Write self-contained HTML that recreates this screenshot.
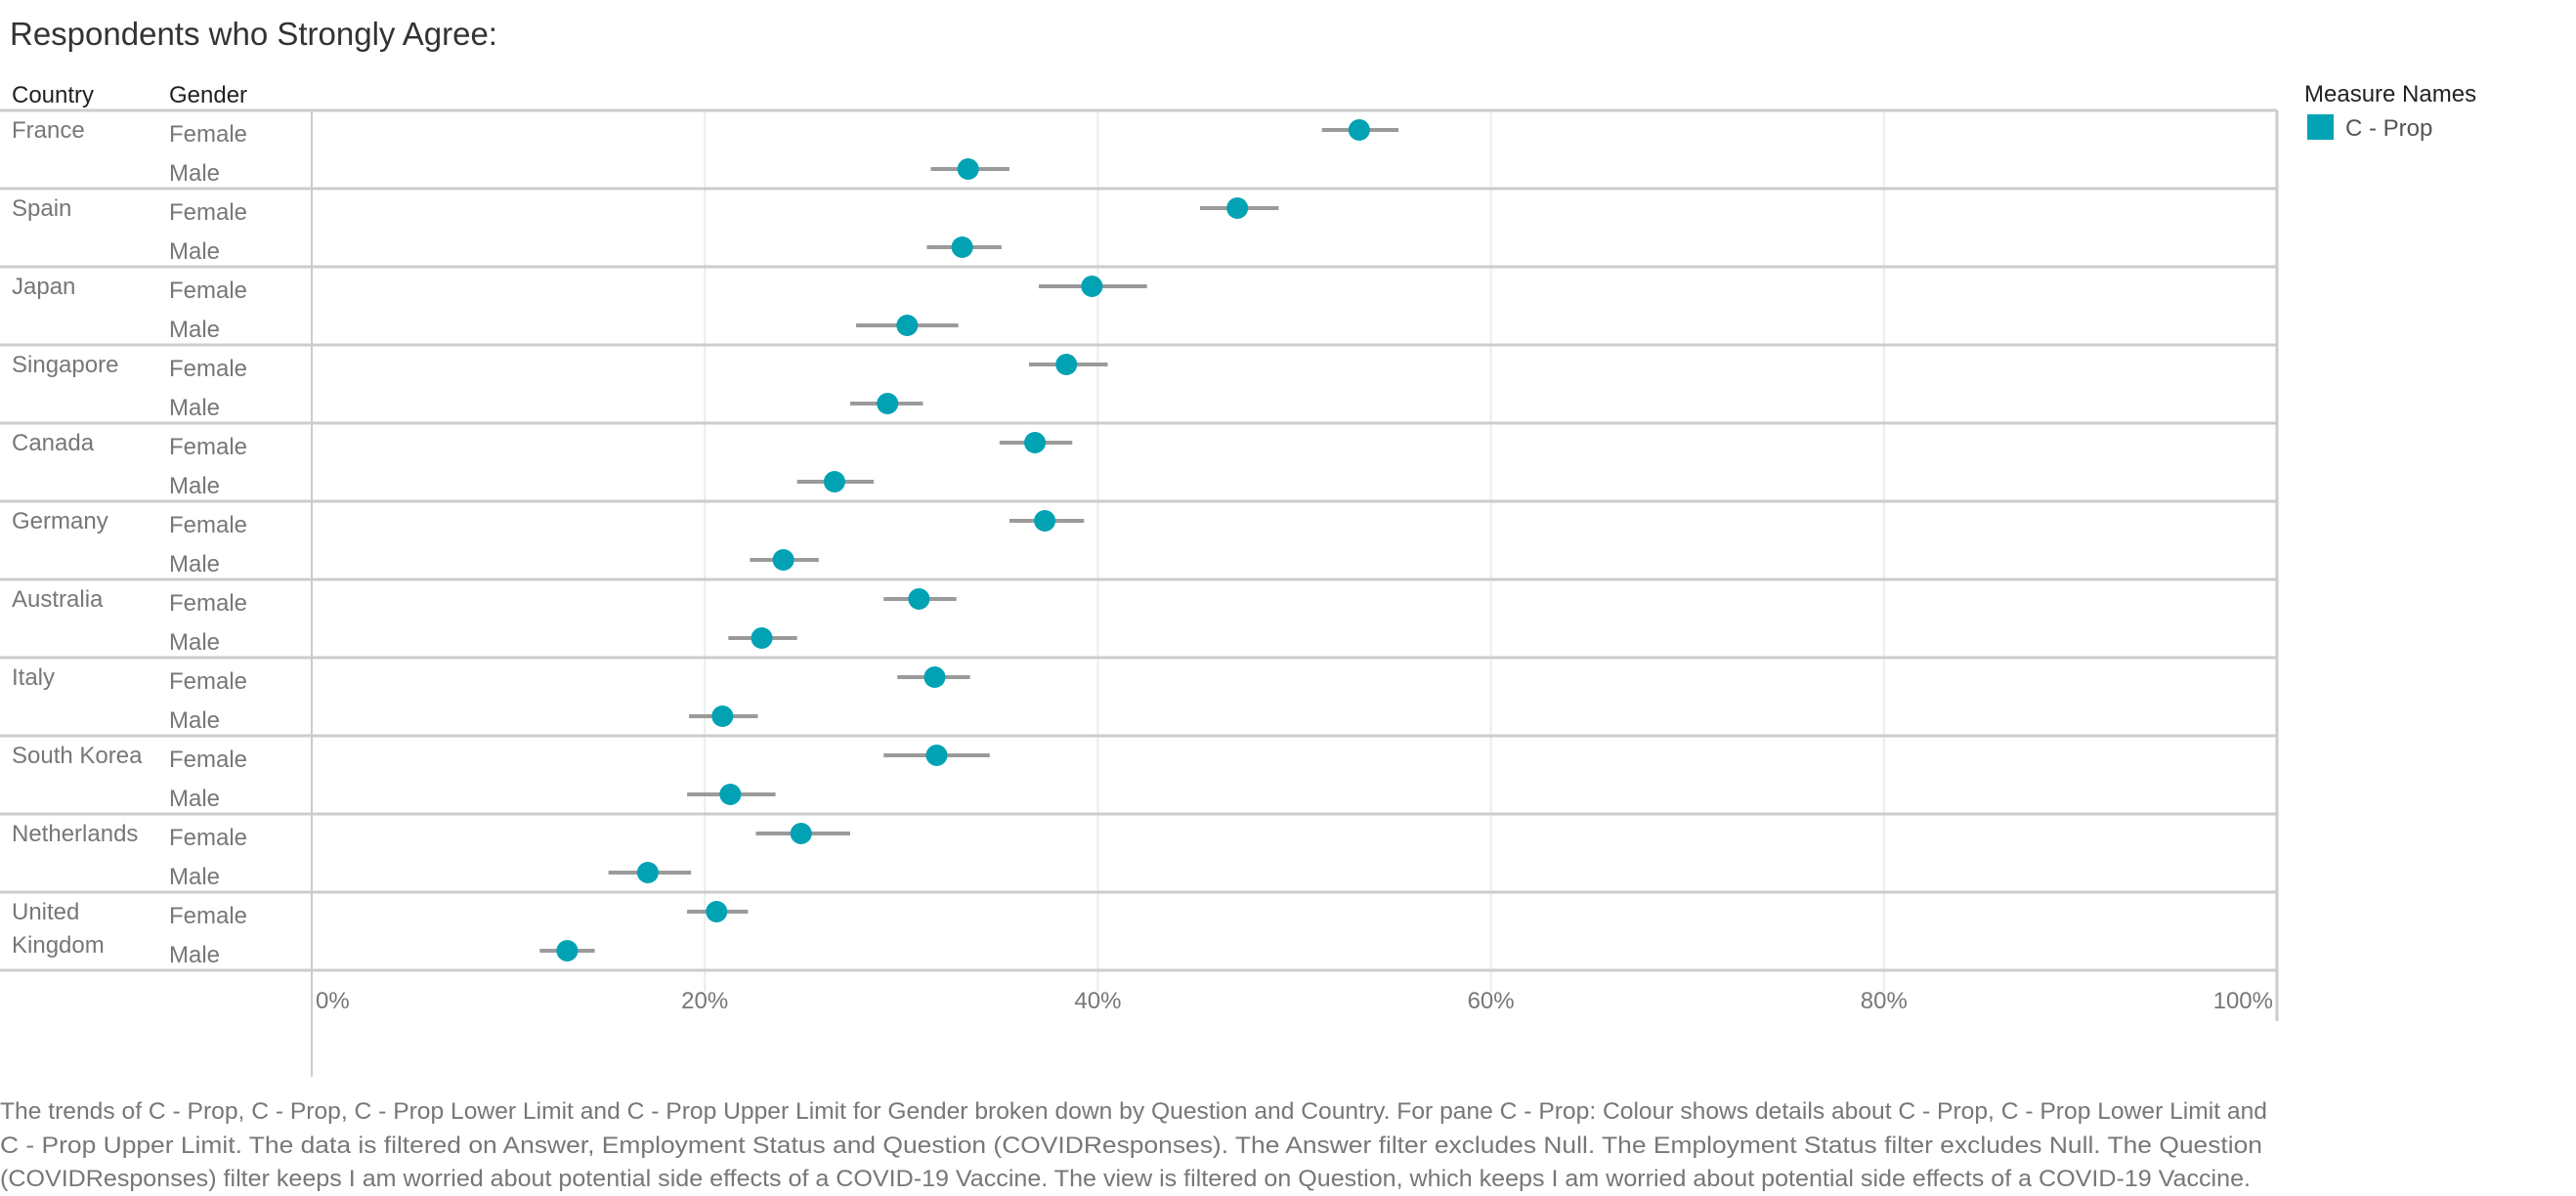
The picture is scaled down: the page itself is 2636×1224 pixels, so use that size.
<!DOCTYPE html>
<html><head><meta charset="utf-8"><style>
html,body{margin:0;padding:0;background:#fff;}
svg{display:block;font-family:"Liberation Sans Narrow","Liberation Sans",sans-serif;}
</style></head><body>
<svg id="chart" width="2636" height="1224" viewBox="0 0 2636 1224">
<text x="10" y="46" font-size="33" fill="#333">Respondents who Strongly Agree:</text>
<text x="12" y="105" font-size="24" fill="#222">Country</text>
<text x="173" y="105" font-size="24" fill="#222">Gender</text>
<text x="2358" y="104" font-size="24" fill="#222">Measure Names</text>
<rect x="2361" y="117" width="27" height="26" fill="#00a2b4"></rect>
<text x="2400" y="139" font-size="24" fill="#555">C - Prop</text>
<g id="grid"></g>
<g id="rows"></g>
<g id="marks"></g>
<g id="axis"></g>
<g font-size="24" fill="#777">
<text x="0" y="1145" textLength="2320" lengthAdjust="spacingAndGlyphs">The trends of C - Prop, C - Prop, C - Prop Lower Limit  and C - Prop Upper Limit for Gender broken down by Question and Country.  For pane C - Prop:  Colour shows details about C - Prop, C - Prop Lower Limit  and</text>
<text x="0" y="1180" textLength="2315" lengthAdjust="spacingAndGlyphs">C - Prop Upper Limit. The data is filtered on Answer, Employment Status and Question (COVIDResponses). The Answer filter excludes Null. The Employment Status filter excludes Null. The Question</text>
<text x="0" y="1214" textLength="2303" lengthAdjust="spacingAndGlyphs">(COVIDResponses) filter keeps I am worried about potential side effects of a COVID-19 Vaccine. The view is filtered on Question, which keeps I am worried about potential side effects of a COVID-19 Vaccine.</text>
</g>
</svg>
<script>
const countries = ["France","Spain","Japan","Singapore","Canada","Germany","Australia","Italy","South Korea","Netherlands","United Kingdom"];
const femaleProp = [53.3,47.1,39.7,38.4,36.8,37.3,30.9,31.7,31.8,24.9,20.6];
const femaleLower = [51.4,45.2,37.0,36.5,35.0,35.5,29.1,29.8,29.1,22.6,19.1];
const femaleUpper = [55.3,49.2,42.5,40.5,38.7,39.3,32.8,33.5,34.5,27.4,22.2];
const maleProp = [33.4,33.1,30.3,29.3,26.6,24.0,22.9,20.9,21.3,17.1,13.0];
const maleLower = [31.5,31.3,27.7,27.4,24.7,22.3,21.2,19.2,19.1,15.1,11.6];
const maleUpper = [35.5,35.1,32.9,31.1,28.6,25.8,24.7,22.7,23.6,19.3,14.4];
const ticks = [0,20,40,60,80,100];
const tickLabels = ["0%","20%","40%","60%","80%","100%"];

const NS="http://www.w3.org/2000/svg";
const X0=319, X1=2330, TOP=113, BAND=80;
const x = v => X0 + (v/100)*(X1-X0);
const bandTop = i => TOP + i*BAND;
const BOTTOM = bandTop(countries.length);
function mk(tag, attrs, parent){const e=document.createElementNS(NS,tag);for(const k in attrs)e.setAttribute(k,attrs[k]);parent.appendChild(e);return e;}
const grid=document.getElementById('grid'), rows=document.getElementById('rows'), marks=document.getElementById('marks'), axis=document.getElementById('axis');

ticks.forEach((t,i)=>{
  if(t>0 && t<100){
    const g=mk('line',{x1:x(t),x2:x(t),y1:TOP,y2:BOTTOM+22,stroke:'#ececec','stroke-width':2},grid);
    
    
  }
  const lb=mk('text',{x:(t===100? x(t)-4 : x(t)+ (t===0?4:0)),y:BOTTOM+39,'font-size':24,fill:'#777','text-anchor':t===0?'start':(t===100?'end':'middle')},axis);
  lb.textContent=tickLabels[i];
  
  
});
let l=mk('line',{x1:X0,x2:X0,y1:TOP,y2:1102,stroke:'#ccc','stroke-width':2},axis);


l=mk('line',{x1:X1,x2:X1,y1:TOP,y2:1045,stroke:'#ccc','stroke-width':3},axis);



for(let i=0;i<=countries.length;i++){
  const ln=mk('line',{x1:0,x2:X1,y1:bandTop(i),y2:bandTop(i),stroke:'#ccc','stroke-width':3},rows);
  
  
}
countries.forEach((c,i)=>{
  const t=bandTop(i);
  if(c==="United Kingdom"){
    let a=mk('text',{x:12,y:t+28,'font-size':24,fill:'#777'},rows);a.textContent="United";
    
    
    a=mk('text',{x:12,y:t+62,'font-size':24,fill:'#777'},rows);a.textContent="Kingdom";
    
    
  } else {
    const a=mk('text',{x:12,y:t+28,'font-size':24,fill:'#777'},rows);a.textContent=c;
    
    
  }
  const f=mk('text',{x:173,y:t+32,'font-size':24,fill:'#777'},rows);f.textContent="Female";
  
  
  const m=mk('text',{x:173,y:t+72,'font-size':24,fill:'#777'},rows);m.textContent="Male";
  
  

  const rowsDef=[[femaleProp[i],femaleLower[i],femaleUpper[i],t+20,'female'],[maleProp[i],maleLower[i],maleUpper[i],t+60,'male']];
  rowsDef.forEach(([p,lo,hi,y,g])=>{
    const ci=mk('line',{x1:x(lo),x2:x(hi),y1:y,y2:y,stroke:'#9a9a9a','stroke-width':4},marks);
    
    
    const d=mk('circle',{cx:x(p),cy:y,r:11,fill:'#00a2b4'},marks);
    
    
  });
});
let sep=mk('line',{x1:X0,x2:X0,y1:TOP,y2:BOTTOM,stroke:'#ccc','stroke-width':2},rows);


</script>
</body></html>
